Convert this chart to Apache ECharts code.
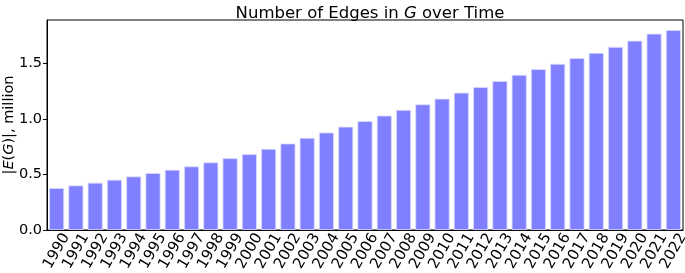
<!DOCTYPE html>
<html><head><meta charset="utf-8">
<script src="https://cdn.jsdelivr.net/npm/echarts@6/dist/echarts.min.js"></script>
<style>html,body{margin:0;padding:0;background:#fff}#c{width:685px;height:273px}</style>
</head><body><div id="c"></div>
<script>
const years = ['1990','1991','1992','1993','1994','1995','1996','1997','1998','1999','2000','2001','2002','2003','2004','2005','2006','2007','2008','2009','2010','2011','2012','2013','2014','2015','2016','2017','2018','2019','2020','2021','2022'];
const edges = [0.377,0.401,0.425,0.452,0.482,0.512,0.542,0.572,0.608,0.646,0.682,0.730,0.778,0.829,0.877,0.929,0.980,1.029,1.080,1.130,1.181,1.235,1.286,1.340,1.396,1.447,1.495,1.546,1.593,1.647,1.703,1.766,1.799];
const yTicks = [0, 0.5, 1.0, 1.5];
const F = 'DejaVu Sans';
const chart = echarts.init(document.getElementById('c'), null, {renderer:'canvas'});
chart.setOption({
  animation:false,
  backgroundColor:'#fff',
  title:{
    text:'{n|Number of Edges in }{i|G}{n| over Time}',
    left:365, top:0, textAlign:'center',
    textStyle:{fontWeight:'normal',rich:{n:{fontFamily:F,fontSize:16.5,fontWeight:'normal',color:'#000'},i:{fontFamily:F,fontSize:16.5,fontWeight:'normal',fontStyle:'italic',color:'#000'}}}
  },
  grid:{left:47,right:2,top:20,bottom:43,outerBoundsMode:'none',containLabel:false,show:true,borderColor:'#000',borderWidth:1,backgroundColor:'transparent'},
  xAxis:{
    type:'category', data:years, boundaryGap:true,
    axisLine:{lineStyle:{color:'#000',width:1}},
    axisTick:{alignWithLabel:true,length:4,lineStyle:{color:'#000'}},
    axisLabel:{rotate:60,interval:0,fontFamily:F,fontSize:15,color:'#000',margin:21,align:'center',verticalAlign:'middle'}
  },
  yAxis:{
    type:'value', min:0, max:1.889,
    name:'{a||}{i|E}{a|(}{i|G}{a|)|, million}', nameLocation:'middle', nameGap:38, nameMoveOverlap:false,
    nameTextStyle:{verticalAlign:'middle',rich:{a:{fontFamily:F,fontSize:14.5,color:'#000'},i:{fontFamily:F,fontSize:14.5,fontStyle:'italic',color:'#000'}}},
    splitLine:{show:false},
    axisLine:{show:true,lineStyle:{color:'#000',width:1}},
    axisTick:{show:true,length:4,lineStyle:{color:'#000'},customValues:yTicks},
    axisLabel:{fontFamily:F,fontSize:14.5,color:'#000',margin:5,customValues:yTicks,formatter:v=>v.toFixed(1)}
  },
  series:[{
    type:'bar', data:edges, barWidth:'78%',
    itemStyle:{color:'#8080ff',borderColor:'#dcdcff',borderWidth:0.8}
  }]
});
</script></body></html>
